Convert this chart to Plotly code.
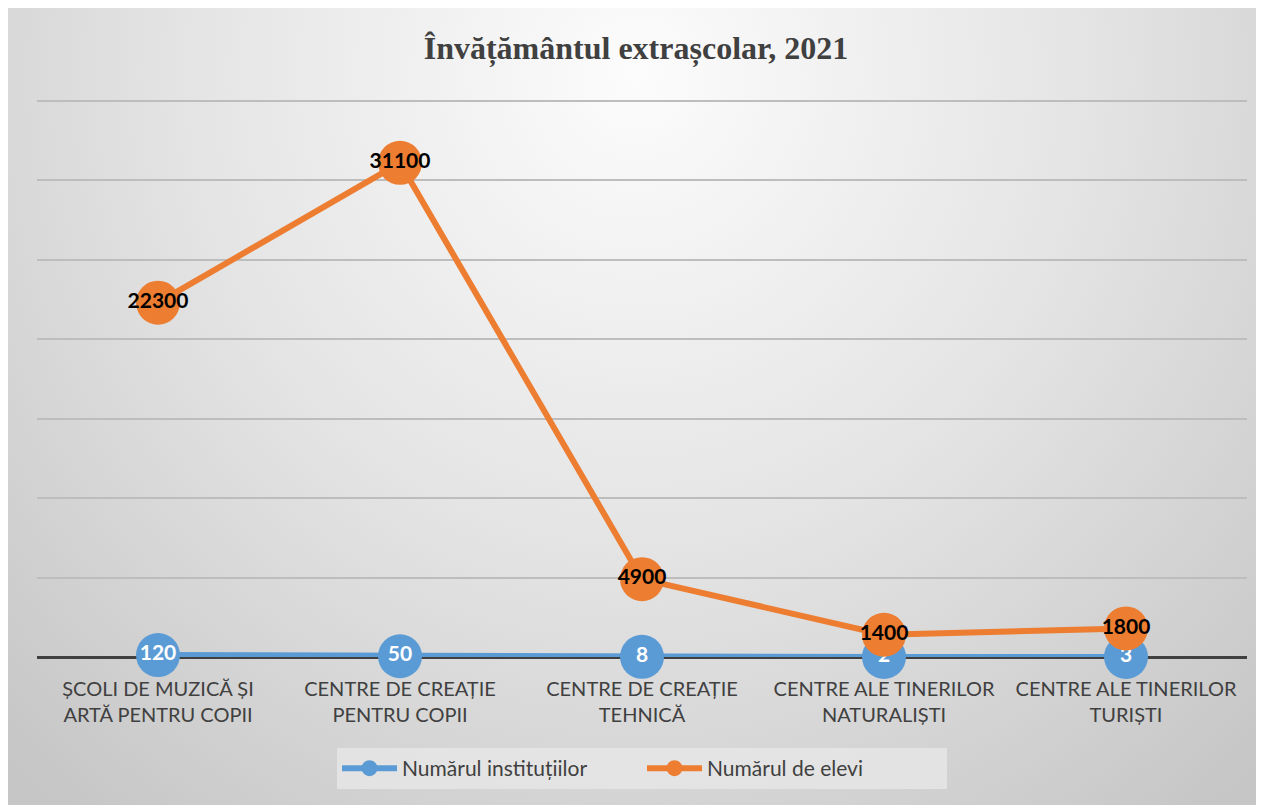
import base64
import plotly.graph_objects as go

categories = ["ȘCOLI DE MUZICĂ ȘI<br>ARTĂ PENTRU COPII",
              "CENTRE DE CREAȚIE<br>PENTRU COPII",
              "CENTRE DE CREAȚIE<br>TEHNICĂ",
              "CENTRE ALE TINERILOR<br>NATURALIȘTI",
              "CENTRE ALE TINERILOR<br>TURIȘTI"]
institutii = [120, 50, 8, 2, 3]
elevi = [22300, 31100, 4900, 1400, 1800]

W, H = 1256, 797
svg = f'''<svg xmlns="http://www.w3.org/2000/svg" width="{W}" height="{H}" preserveAspectRatio="none">
<defs><radialGradient id="g" gradientUnits="userSpaceOnUse" cx="{W*0.5}" cy="{H*0.08}" r="{W*0.72}"
 gradientTransform="translate({W*0.5} {H*0.08}) scale(1 1.05) translate({-W*0.5} {-H*0.08})">
<stop offset="0" stop-color="#fcfcfc"/><stop offset="0.5" stop-color="#e4e4e4"/><stop offset="1" stop-color="#c6c6c6"/>
</radialGradient></defs>
<rect x="0" y="0" width="{W}" height="{H}" fill="url(#g)"/></svg>'''
src = "data:image/svg+xml;base64," + base64.b64encode(svg.encode()).decode()

L, R, T, B = 29, 17, 91, 148
PW, PH = W - L - R, H - T - B

lbl_font = "Lato, Open Sans, sans-serif"

fig = go.Figure()
fig.add_trace(go.Scatter(
    x=categories, y=institutii, name="Numărul instituțiilor",
    mode="lines+markers+text", text=[str(v) for v in institutii],
    textposition="middle center",
    textfont=dict(family=lbl_font, size=21, color="white", weight="bold"),
    line=dict(color="#5B9BD5", width=6),
    marker=dict(color="#5B9BD5", size=44, line=dict(width=0)),
    cliponaxis=False,
))
fig.add_trace(go.Scatter(
    x=categories, y=elevi, name="Numărul de elevi",
    mode="lines+markers+text", text=[str(v) for v in elevi],
    textposition="middle center",
    textfont=dict(family=lbl_font, size=21, color="black", weight="bold"),
    line=dict(color="#ED7D31", width=6),
    marker=dict(color="#ED7D31", size=44, line=dict(width=0)),
    cliponaxis=False,
))

fig.update_layout(
    width=W, height=H,
    paper_bgcolor="#d0d0d0", plot_bgcolor="rgba(0,0,0,0)",
    margin=dict(l=L, r=R, t=T, b=B),
    title=dict(text="<b>Învățământul extrașcolar, 2021</b>", x=0.5, xanchor="center",
               y=1 - 40 / H, yanchor="middle",
               font=dict(family="Liberation Serif, Times New Roman, serif", size=32, color="#404040")),
    images=[dict(source=src, xref="paper", yref="paper",
                 x=-L / PW, y=1 + T / PH, sizex=W / PW, sizey=H / PH,
                 xanchor="left", yanchor="top", sizing="stretch", layer="below")],
    xaxis=dict(range=[-0.5, 4.5], showgrid=False, ticks="", showline=False, zeroline=False,
               ticklabelstandoff=18,
               tickfont=dict(family=lbl_font, size=20, color="#404040")),
    yaxis=dict(range=[0, 35120], tick0=0, dtick=5000, showticklabels=False, showgrid=True,
               gridcolor="#bdbdbd", gridwidth=2, zeroline=True, zerolinecolor="#404040",
               zerolinewidth=3, showline=False),
    legend=dict(orientation="h", x=0.5, xanchor="center", y=-91 / PH, yanchor="top",
                bgcolor="rgba(232,232,232,0.75)", borderwidth=0,
                font=dict(family=lbl_font, size=21, color="#404040"),
                itemwidth=55, entrywidth=235),
    showlegend=True,
)
fig.write_html("out.html")
